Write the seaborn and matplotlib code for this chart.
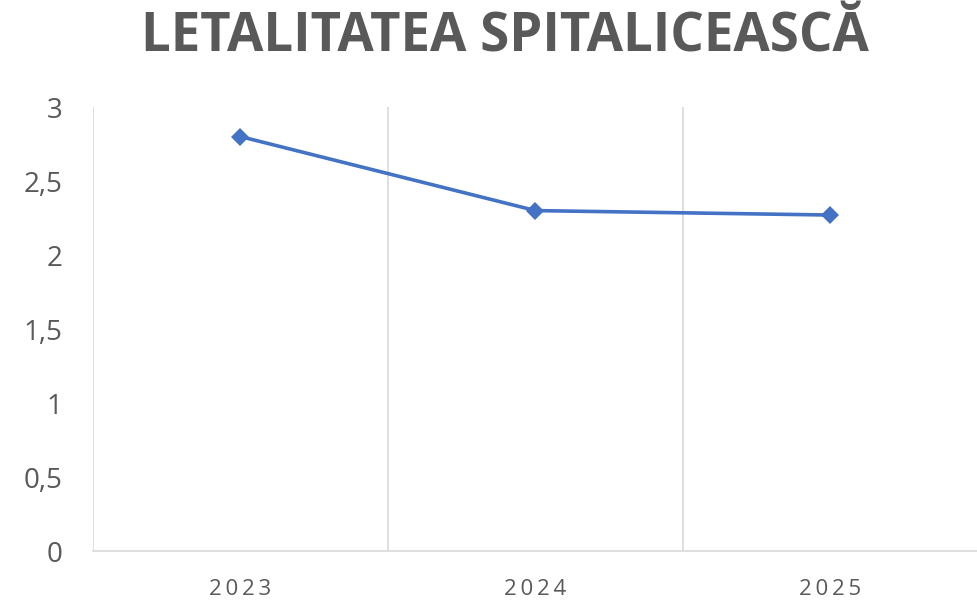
import matplotlib
matplotlib.use("Agg")
import matplotlib.pyplot as plt
import seaborn as sns
import pandas as pd

years = ["2023", "2024", "2025"]
letalitate = [2.8, 2.3, 2.27]
y_ticks = [0, 0.5, 1, 1.5, 2, 2.5, 3]
y_tick_labels = ["0", "0,5", "1", "1,5", "2", "2,5", "3"]
title = "LETALITATEA SPITALICEASCĂ"

sns.set_theme(style="white")
plt.rcParams['font.family'] = ['Open Sans', 'DejaVu Sans']

df = pd.DataFrame({"an": years, "val": letalitate})

fig = plt.figure(figsize=(9.78, 6.0), dpi=100)
ax = fig.add_axes([93/978, 1-551/600, 1-93/978, (551-107)/600])

sns.lineplot(data=df, x="an", y="val", ax=ax, color="#4472C4", linewidth=2.6,
             marker="D", markersize=9.5, markeredgewidth=0, sort=False)

ax.set_xlim(-0.5, 2.5)
ax.set_ylim(0, 3)
ax.set_yticks(y_ticks)
ax.set_yticklabels(y_tick_labels)
ax.set_xticks(range(len(years)))
ax.set_xticklabels(["\u2009".join(y) for y in years])
ax.tick_params(axis="y", length=0, pad=22, labelsize=20, labelcolor="#595959")
ax.tick_params(axis="x", length=0, pad=20, labelsize=16, labelcolor="#595959")
ax.set_xlabel("")
ax.set_ylabel("")

for x in [-0.5, 0.5, 1.5, 2.5]:
    ax.axvline(x, color="#d9d9d9", linewidth=1.2, zorder=0)
for s in ["top", "right", "left"]:
    ax.spines[s].set_visible(False)
ax.spines["bottom"].set_color("#d9d9d9")
ax.spines["bottom"].set_linewidth(1.2)

fig.text(505/978, 1-37/600, title, ha="center", va="center",
         fontsize=38, fontweight="bold", color="#595959", family=["Open Sans", "DejaVu Sans"])

fig.savefig("out.png", dpi=100)
